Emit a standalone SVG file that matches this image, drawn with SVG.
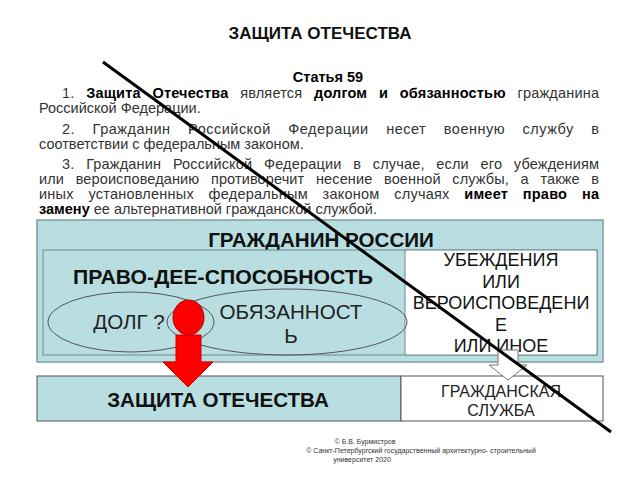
<svg xmlns="http://www.w3.org/2000/svg" width="640" height="480" viewBox="0 0 640 480">
<style>
text{font-family:"Liberation Sans",Arial,sans-serif}
.body{font-size:14.5px;fill:#333}
.b{font-weight:bold;fill:#000}
.big{font-size:20.6px;font-weight:bold;fill:#111}
.mid{font-size:18px;fill:#111}
.ell{font-size:20.6px;fill:#222}
.blue{fill:#b8dee1}
.foot{font-size:7px;fill:#333}
</style>
<rect width="640" height="480" fill="#fff"/>
<g id="header">
<text x="320" y="39" text-anchor="middle" font-size="17" font-weight="bold" fill="#111">ЗАЩИТА ОТЕЧЕСТВА</text>
<text x="328" y="82" text-anchor="middle" class="body b" font-size="15.5">Статья 59</text>
<text x="62" y="98" class="body" word-spacing="7.5" textLength="537" lengthAdjust="spacing">1. <tspan class="b">Защита Отечества</tspan> является <tspan class="b">долгом и обязанностью</tspan> гражданина</text>
<text x="39" y="113" class="body">Российской Федерации.</text>
<text x="62" y="134" class="body" word-spacing="13" textLength="537" lengthAdjust="spacing">2. Гражданин Российской Федерации несет военную службу в</text>
<text x="39" y="149" class="body">соответствии с федеральным законом.</text>
<text x="62" y="169" class="body" word-spacing="7.5" textLength="537" lengthAdjust="spacing">3. Гражданин Российской Федерации в случае, если его убеждениям</text>
<text x="39" y="184" class="body" word-spacing="7.5" textLength="560" lengthAdjust="spacing">или вероисповеданию противоречит несение военной службы, а также в</text>
<text x="39" y="199" class="body" word-spacing="10.5" textLength="560" lengthAdjust="spacing">иных установленных федеральным законом случаях <tspan class="b">имеет право на</tspan></text>
<text x="39" y="214" class="body"><tspan class="b">замену</tspan> ее альтернативной гражданской службой.</text>
</g>
<g id="citizen">
<rect x="37" y="220" width="566" height="142" class="blue" stroke="#7f9c9e" stroke-width="1.5"/>
<text x="321" y="247" text-anchor="middle" class="big">ГРАЖДАНИН РОССИИ</text>
<rect x="43" y="250" width="554" height="105" class="blue" stroke="#6f8a8c" stroke-width="1"/>
</g>
<g id="capacity">
<text x="223" y="284" text-anchor="middle" class="big" textLength="300" lengthAdjust="spacingAndGlyphs">ПРАВО-ДЕЕ-СПОСОБНОСТЬ</text>
</g>
<g id="beliefs">
<rect x="405" y="250" width="192" height="105" fill="#fff" stroke="#6f8a8c" stroke-width="1"/>
<text x="501" y="265.5" text-anchor="middle" class="mid">УБЕЖДЕНИЯ</text>
<text x="501" y="287.5" text-anchor="middle" class="mid">ИЛИ</text>
<text x="501" y="308.5" text-anchor="middle" class="mid">ВЕРОИСПОВЕДЕНИ</text>
<text x="501" y="330.5" text-anchor="middle" class="mid">Е</text>
<text x="501" y="351.5" text-anchor="middle" class="mid">ИЛИ ИНОЕ</text>
</g>
<g id="duty">
<ellipse cx="131" cy="322" rx="83" ry="30" fill="none" stroke="#555" stroke-width="1"/>
<text x="129" y="329" text-anchor="middle" class="ell">ДОЛГ ?</text>
</g>
<g id="obligation">
<ellipse cx="287" cy="322" rx="120" ry="33" fill="none" stroke="#555" stroke-width="1"/>
<text x="291" y="319" text-anchor="middle" class="ell">ОБЯЗАННОСТ</text>
<text x="291" y="343" text-anchor="middle" class="ell">Ь</text>
</g>
<g id="defence">
<rect x="37" y="376" width="364" height="45" class="blue" stroke="#555" stroke-width="1"/>
<text x="218" y="407" text-anchor="middle" class="big" font-size="21">ЗАЩИТА ОТЕЧЕСТВА</text>
</g>
<g id="civil">
<rect x="401" y="376" width="202" height="45" fill="#fff" stroke="#555" stroke-width="1"/>
<text x="501" y="397" text-anchor="middle" font-size="16" fill="#222">ГРАЖДАНСКАЯ</text>
<text x="501" y="416" text-anchor="middle" font-size="16" fill="#222">СЛУЖБА</text>
</g>
<g id="connectors">
<ellipse cx="188.5" cy="317.5" rx="15.5" ry="17.5" fill="#f00" stroke="#a00" stroke-width="1"/>
<polygon points="176,335 201,335 201,362 213,362 188,387 163,362 176,362" fill="#f00" stroke="#c00" stroke-width="1"/>
<polygon points="498,350 518,350 518,365 527,365 508,380 489,365 498,365" fill="#fff" stroke="#777" stroke-width="1"/>
</g>
<g id="strike">
<line x1="103" y1="62" x2="611" y2="432" stroke="#000" stroke-width="3"/>
</g>
<g id="footer">
<text x="365" y="444" text-anchor="middle" class="foot">© Б.В. Бурмистров</text>
<text x="421" y="453" text-anchor="middle" class="foot">© Санкт-Петербургский государственный архитектурно-   строительный</text>
<text x="362" y="462" text-anchor="middle" class="foot">университет 2020</text>
</g>
</svg>
